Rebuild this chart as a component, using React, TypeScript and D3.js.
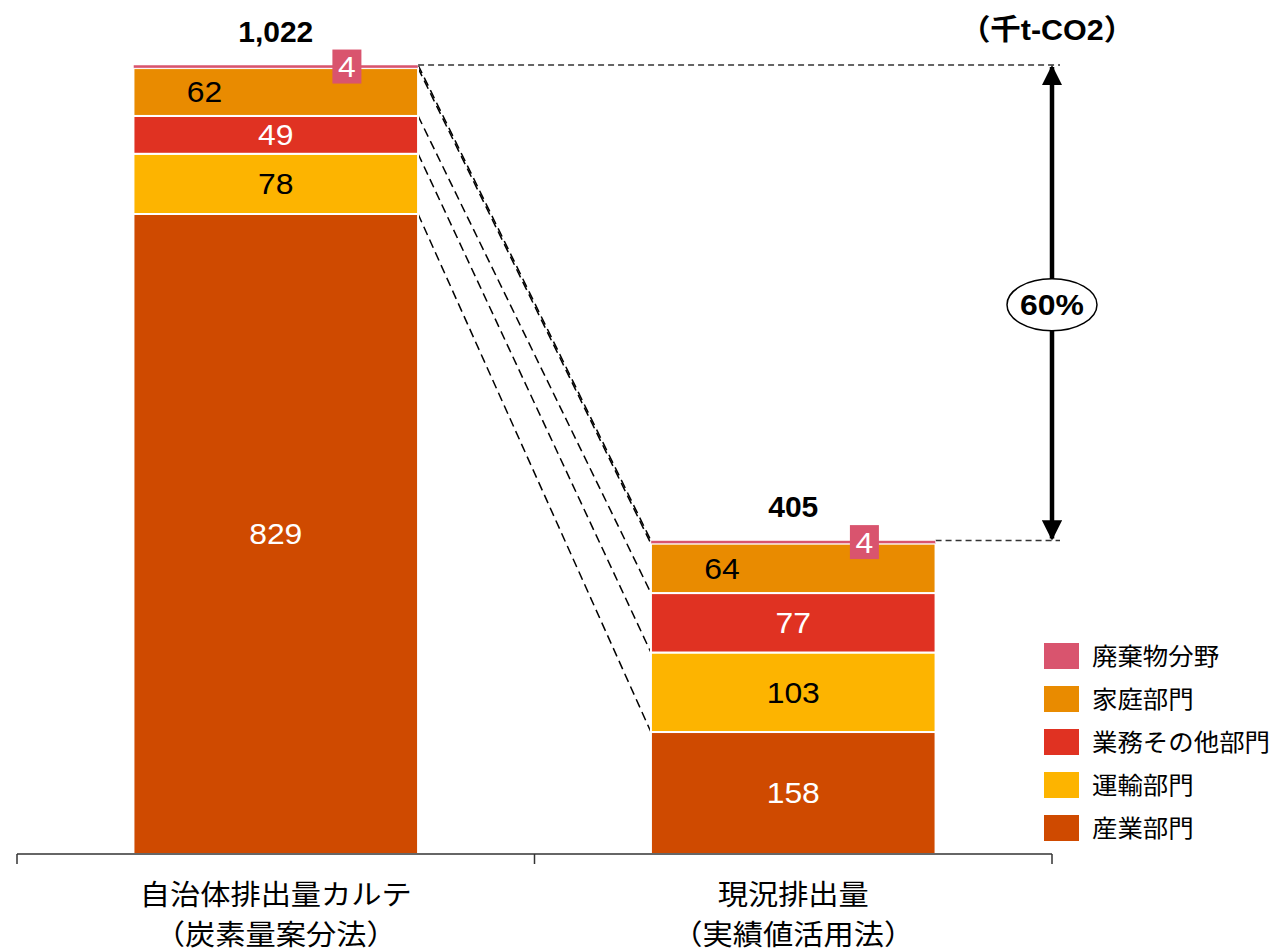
import * as d3 from "d3";

const categories = ["自治体排出量カルテ", "現況排出量"];
const subLabels = ["（炭素量案分法）", "（実績値活用法）"];
const sectors = ["産業部門", "運輸部門", "業務その他部門", "家庭部門", "廃棄物分野"];
const karteValues = [829, 78, 49, 62, 4];
const actualValues = [158, 103, 77, 64, 4];
const totalLabels = ["1,022", "405"];
const reductionLabel = "60%";
const unitLabel = "（千t-CO2）";

const colors = ["#CF4A00", "#FDB400", "#E03222", "#E98B00", "#D9546E"];
const labelColors = ["#fff", "#000", "#fff", "#000", "#fff"];
const labelPos = [0.5, 0.5, 0.5, 0.25, 0.75];

const W = 1276;
const H = 952;
const numFont = "'Liberation Sans', Arial, sans-serif";
const jpFont = "'Noto Sans CJK JP', 'Noto Sans', sans-serif";

// text that is a little wider than the font (the source was stretched)
function WideText({ x, y, sx, children, ...rest }: any) {
  return (
    <text transform={`translate(${x},${y}) scale(${sx},1)`} dy="0.36em" {...rest}>
      {children}
    </text>
  );
}

export default function App() {
  const series = [karteValues, actualValues];

  const x = d3.scaleBand<string>()
    .domain(categories)
    .range([17, 1052])
    .paddingInner(0.45)
    .paddingOuter(0.225);

  const y = d3.scaleLinear()
    .domain([0, d3.sum(karteValues)])
    .range([854, 65]);

  const bw = x.bandwidth();

  // stacked segments
  const stacks = series.map(vals => {
    let acc = 0;
    return vals.map(v => {
      const s = { y0: acc, y1: acc + v, v };
      acc += v;
      return s;
    });
  });

  const x1 = x(categories[0])!;
  const x2 = x(categories[1])!;
  const tot1 = d3.sum(karteValues);
  const tot2 = d3.sum(actualValues);
  const arrowX = 1052;
  const midY = (y(tot1) + y(tot2)) / 2 + 2;

  const axisY = y(0);
  const tickXs = [17, (x1 + bw + x2) / 2, 1052];

  return (
    <svg width={W} height={H} style={{ position: "absolute", left: 0, top: 0, background: "#fff" }}>
      <defs>
        <marker id="ah" viewBox="0 0 10 10" refX="9" refY="5" markerWidth="4.5" markerHeight="4.5" orient="auto-start-reverse">
          <path d="M0,0 L10,5 L0,10 z" fill="#000" />
        </marker>
      </defs>

      {/* connector dashed lines */}
      {stacks[0].map((s, i) => (
        <line key={"c" + i}
          x1={x1 + bw} y1={y(s.y1)}
          x2={x2} y2={y(stacks[1][i].y1)}
          stroke="#000" strokeWidth={1.5} strokeDasharray="9,5" />
      ))}
      <line x1={x1 + bw} y1={y(tot1)} x2={arrowX + 8} y2={y(tot1)} stroke="#333" strokeWidth={1.4} strokeDasharray="6,4" />
      <line x1={x2 + bw} y1={y(tot2)} x2={arrowX + 8} y2={y(tot2)} stroke="#333" strokeWidth={1.4} strokeDasharray="6,4" />

      {/* bars */}
      {stacks.map((st, ci) => (
        <g key={"b" + ci}>
          {st.map((s, i) => (
            <rect key={i}
              x={x(categories[ci])!} width={bw}
              y={y(s.y1)} height={y(s.y0) - y(s.y1)}
              fill={colors[i]} stroke="#fff" strokeWidth={i === 4 ? 0.5 : 2} />
          ))}
        </g>
      ))}

      {/* segment labels */}
      {stacks.map((st, ci) => (
        <g key={"l" + ci}>
          {st.map((s, i) => {
            const cx = x(categories[ci])! + bw * labelPos[i];
            const cy = (y(s.y0) + y(s.y1)) / 2;
            return (
              <g key={i}>
                {i === 4 && <rect x={cx - 14.5} y={cy - 17} width={29} height={34} fill={colors[4]} />}
                <WideText x={cx} y={cy} sx={1.1} textAnchor="middle"
                  fontFamily={numFont} fontSize={29} fill={labelColors[i]}>
                  {s.v}
                </WideText>
              </g>
            );
          })}
        </g>
      ))}

      {/* totals */}
      {[tot1, tot2].map((t, ci) => (
        <text key={"t" + ci} x={x(categories[ci])! + bw / 2} y={y(t) - 34} dy="0.36em"
          textAnchor="middle" fontFamily={numFont} fontWeight="bold" fontSize={30} fill="#000">
          {totalLabels[ci]}
        </text>
      ))}

      <WideText x={1047} y={30} sx={1.05} textAnchor="middle" fontFamily={numFont + ", 'Noto Sans CJK JP'"} fontWeight="bold" fontSize={29} fill="#000">
        {unitLabel}
      </WideText>

      {/* reduction arrow */}
      <line x1={arrowX} x2={arrowX} y1={y(tot1) + 2} y2={y(tot2) - 2}
        stroke="#000" strokeWidth={4.5} markerStart="url(#ah)" markerEnd="url(#ah)" />
      <ellipse cx={arrowX} cy={midY} rx={45} ry={26} fill="#fff" stroke="#000" strokeWidth={1.5} />
      <WideText x={arrowX} y={midY} sx={1.1} textAnchor="middle" fontFamily={numFont} fontWeight="bold" fontSize={29} fill="#000">
        {reductionLabel}
      </WideText>

      {/* axis */}
      <line x1={17} x2={1052} y1={axisY} y2={axisY} stroke="#333" strokeWidth={1.5} />
      {tickXs.map((tx, i) => (
        <line key={"tk" + i} x1={tx} x2={tx} y1={axisY} y2={axisY + 10} stroke="#333" strokeWidth={1.5} />
      ))}
      {categories.map((c, i) => (
        <g key={"cat" + i} fontFamily={jpFont} fontSize={28} fill="#000" textAnchor="middle">
          <WideText x={x(c)! + bw / 2} y={895} sx={1.08}>{c}</WideText>
          <WideText x={x(c)! + bw / 2} y={935} sx={1.08}>{subLabels[i]}</WideText>
        </g>
      ))}

      {/* legend */}
      {sectors.slice().reverse().map((s, i) => {
        const idx = sectors.length - 1 - i;
        const ly = 656 + i * 43;
        return (
          <g key={"lg" + i}>
            <rect x={1044} y={ly - 13} width={35} height={26} fill={colors[idx]} />
            <WideText x={1092} y={ly} sx={1.06} fontFamily={jpFont} fontSize={24} fill="#000">{s}</WideText>
          </g>
        );
      })}
    </svg>
  );
}
